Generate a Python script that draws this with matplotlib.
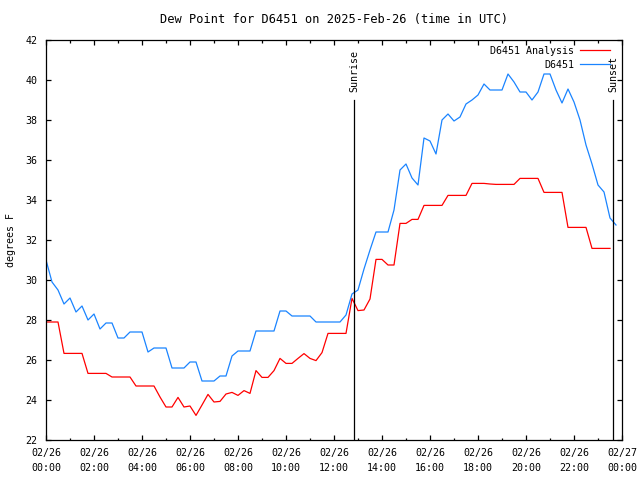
import numpy
from matplotlib import pyplot as plt
from matplotlib.ticker import MultipleLocator

# --- data (15 minute steps, hours since 02/26 00:00 UTC) --- #
analysis_dewpoint = [27.9, 27.9, 27.9, 26.33, 26.33, 26.33, 26.33, 25.33,
                     25.33, 25.33, 25.33, 25.15, 25.15, 25.15, 25.15, 24.7,
                     24.7, 24.7, 24.7, 24.15, 23.65, 23.65, 24.13, 23.65,
                     23.7, 23.23, 23.75, 24.28, 23.9, 23.93, 24.3, 24.38,
                     24.23, 24.47, 24.33, 25.47, 25.13, 25.13, 25.47, 26.08,
                     25.83, 25.83, 26.08, 26.32, 26.08, 25.97, 26.37, 27.33,
                     27.33, 27.33, 27.33, 29.08, 28.47, 28.5, 29.05, 31.03,
                     31.03, 30.75, 30.75, 32.83, 32.83, 33.03, 33.03, 33.73,
                     33.73, 33.73, 33.73, 34.23, 34.23, 34.23, 34.23, 34.83,
                     34.83, 34.83, 34.8, 34.78, 34.78, 34.78, 34.78, 35.08,
                     35.08, 35.08, 35.08, 34.38, 34.38, 34.38, 34.38, 32.63,
                     32.63, 32.63, 32.63, 31.58, 31.58, 31.58, 31.58]
station_dewpoint = [31.0, 29.9, 29.5, 28.8, 29.1, 28.4, 28.7, 28.0,
                    28.3, 27.55, 27.85, 27.85, 27.1, 27.1, 27.4, 27.4,
                    27.4, 26.4, 26.6, 26.6, 26.6, 25.6, 25.6, 25.6,
                    25.9, 25.9, 24.95, 24.95, 24.95, 25.2, 25.2, 26.2,
                    26.45, 26.45, 26.45, 27.45, 27.45, 27.45, 27.45, 28.45,
                    28.45, 28.2, 28.2, 28.2, 28.2, 27.9, 27.9, 27.9,
                    27.9, 27.9, 28.25, 29.3, 29.5, 30.55, 31.5, 32.4,
                    32.4, 32.4, 33.5, 35.5, 35.8, 35.1, 34.75, 37.1,
                    36.95, 36.3, 38.0, 38.3, 37.95, 38.15, 38.8, 39.0,
                    39.25, 39.8, 39.5, 39.5, 39.5, 40.3, 39.9, 39.4,
                    39.4, 39.0, 39.4, 40.3, 40.3, 39.5, 38.85, 39.55,
                    38.9, 38.0, 36.75, 35.8, 34.75, 34.4, 33.1, 32.75]
analysis_time = numpy.arange(len(analysis_dewpoint)) * 0.25
station_time = numpy.arange(len(station_dewpoint)) * 0.25

sunrise_hour = 12.85
sunset_hour = 23.64

tick_hours = list(range(0, 25, 2))
tick_labels = ['02/26\n%02i:00' % h for h in range(0, 24, 2)] + ['02/27\n00:00']

# --- figure --- #
plt.rcParams['font.family'] = 'DejaVu Sans Mono'
plt.rcParams['font.size'] = 7.2

fig = plt.figure(figsize=(6.4, 4.8), dpi=100)
ax = fig.add_axes([46 / 640, 40 / 480, 576 / 640, 400 / 480])

ax.plot(analysis_time, analysis_dewpoint, color='#ff0000', linewidth=0.9,
        label='D6451 Analysis')
ax.plot(station_time, station_dewpoint, color='#1a84ff', linewidth=0.9,
        label='D6451')

# sunrise / sunset markers
for hour, name in [(sunrise_hour, 'Sunrise'), (sunset_hour, 'Sunset')]:
    ax.plot([hour, hour], [22, 39], color='black', linewidth=0.9)
    ax.text(hour, 39.4, name, rotation=90, ha='center', va='bottom')

ax.set_xlim(0, 24)
ax.set_ylim(22, 42)
ax.set_xticks(tick_hours)
ax.set_xticklabels(tick_labels, linespacing=1.6)
ax.xaxis.set_minor_locator(MultipleLocator(1))
ax.set_yticks(numpy.arange(22, 43, 2))
ax.tick_params(which='both', direction='in', top=True, right=True, width=0.9)
ax.tick_params(which='major', length=3.5, pad=6)
ax.tick_params(which='minor', length=1.8)
for spine in ax.spines.values():
    spine.set_linewidth(0.9)

ax.set_title('Dew Point for D6451 on 2025-Feb-26 (time in UTC)', pad=12.5)
ax.set_ylabel('degrees F')
ax.yaxis.set_label_coords(-0.052, 0.5)

leg = ax.legend(loc='upper right', frameon=False, markerfirst=False,
                handlelength=3.0, handletextpad=0.6, borderaxespad=0,
                borderpad=0, labelspacing=0.4,
                bbox_to_anchor=(0.98, 0.985))
for text in leg.get_texts():
    text.set_ha('right')

fig.savefig('out.png', dpi=100)
